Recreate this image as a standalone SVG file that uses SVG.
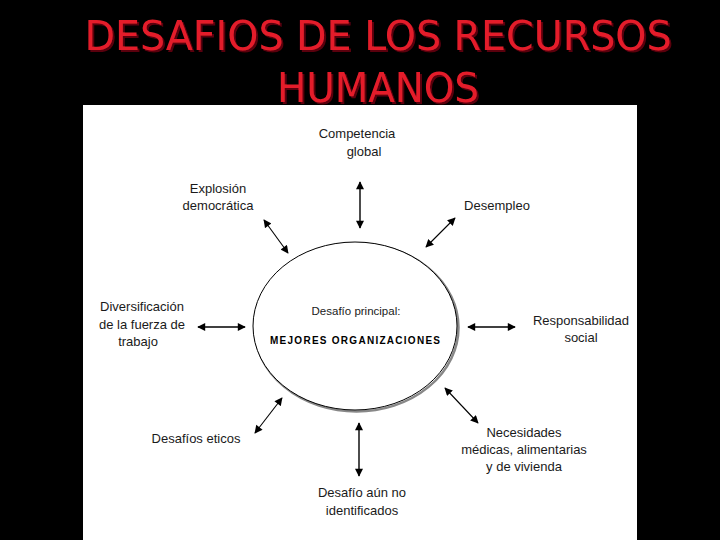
<svg xmlns="http://www.w3.org/2000/svg" width="720" height="540" viewBox="0 0 720 540">
<style>
.title{font-family:"DejaVu Sans","Liberation Sans",sans-serif;font-size:41px;text-anchor:middle;fill:#e41e2b}
.t{font-family:"Liberation Sans",Arial,sans-serif;font-size:13px;fill:#1a1a1a;text-anchor:middle}
.c{stroke:#000;stroke-width:1.1;fill:none}
</style>
<defs>
<marker id="ah" viewBox="0 0 10 10" refX="9" refY="5" markerWidth="9" markerHeight="8" markerUnits="userSpaceOnUse" orient="auto-start-reverse">
<path d="M0,0 L10,5 L0,10 Z" fill="#000"/>
</marker>
<filter id="sh" x="-5%" y="-20%" width="110%" height="140%">
<feDropShadow dx="2" dy="2" stdDeviation="0.6" flood-color="#5a0508" flood-opacity="1"/>
</filter>
</defs>
<rect x="0" y="0" width="720" height="540" fill="#000"/>
<rect x="83" y="105" width="554" height="435" fill="#fff"/>
<g id="title" filter="url(#sh)">
<text class="title" x="378" y="50" textLength="587" lengthAdjust="spacingAndGlyphs">DESAFIOS DE LOS RECURSOS</text>
<text class="title" x="378" y="102" textLength="202" lengthAdjust="spacingAndGlyphs">HUMANOS</text>
</g>
<g id="center">
<ellipse cx="356.5" cy="327.5" rx="102" ry="84" fill="none" stroke="#888" stroke-width="2.5"/>
<ellipse cx="355" cy="326" rx="102" ry="84" fill="#fff" stroke="#000" stroke-width="1"/>
<text class="t" x="356" y="315" style="font-size:11.5px">Desafío principal:</text>
<text class="t" x="355" y="344" style="font-size:10px;font-weight:bold;fill:#000" textLength="170" lengthAdjust="spacing">MEJORES ORGANIZACIONES</text>
</g>
<g id="n-competencia"><text class="t" x="357" y="138">Competencia</text><text class="t" x="364" y="156">global</text></g>
<g id="n-explosion"><text class="t" x="218" y="193">Explosión</text><text class="t" x="218" y="210">democrática</text></g>
<g id="n-desempleo"><text class="t" x="497" y="210">Desempleo</text></g>
<g id="n-diversificacion"><text class="t" x="142" y="311">Diversificación</text><text class="t" x="142" y="329">de la fuerza de</text><text class="t" x="138" y="346">trabajo</text></g>
<g id="n-responsabilidad"><text class="t" x="581" y="325">Responsabilidad</text><text class="t" x="581" y="342">social</text></g>
<g id="n-eticos"><text class="t" x="196" y="443">Desafíos eticos</text></g>
<g id="n-necesidades"><text class="t" x="524" y="437">Necesidades</text><text class="t" x="524" y="454">médicas, alimentarias</text><text class="t" x="524" y="471">y de vivienda</text></g>
<g id="n-noidentificados"><text class="t" x="362" y="497">Desafío aún no</text><text class="t" x="362" y="515">identificados</text></g>
<g id="connectors">
<line class="c" x1="360" y1="182" x2="360" y2="228" marker-start="url(#ah)" marker-end="url(#ah)" style="stroke-width:1.4"/>
<line class="c" x1="264" y1="220" x2="288" y2="253" marker-start="url(#ah)" marker-end="url(#ah)"/>
<line class="c" x1="455" y1="218" x2="426" y2="247" marker-start="url(#ah)" marker-end="url(#ah)"/>
<line class="c" x1="198" y1="327" x2="245" y2="327" marker-start="url(#ah)" marker-end="url(#ah)" style="stroke-width:1.4"/>
<line class="c" x1="468" y1="327" x2="515" y2="327" marker-start="url(#ah)" marker-end="url(#ah)" style="stroke-width:1.4"/>
<line class="c" x1="255" y1="433" x2="282" y2="398" marker-start="url(#ah)" marker-end="url(#ah)"/>
<line class="c" x1="445" y1="388" x2="478" y2="423" marker-start="url(#ah)" marker-end="url(#ah)"/>
<line class="c" x1="359" y1="423" x2="359" y2="476" marker-start="url(#ah)" marker-end="url(#ah)" style="stroke-width:1.4"/>
</g>
</svg>
